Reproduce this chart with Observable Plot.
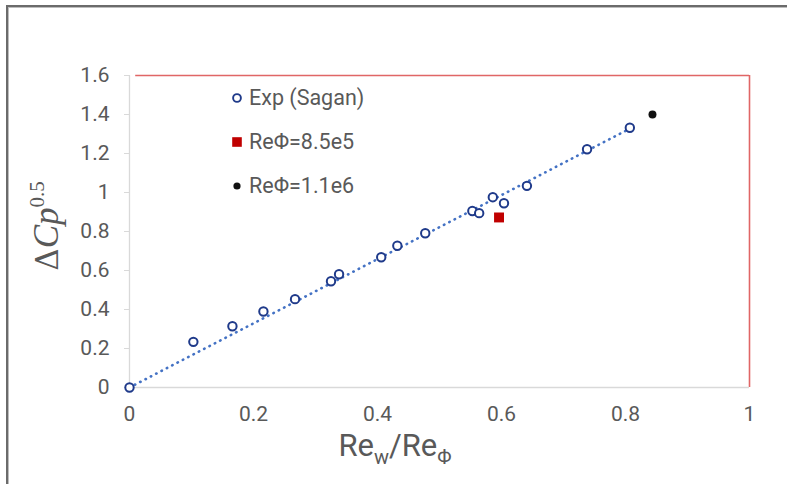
<!DOCTYPE html>
<html>
<head>
<meta charset="utf-8">
<script src="https://cdn.jsdelivr.net/npm/d3@7"></script>
<script src="https://cdn.jsdelivr.net/npm/@observablehq/plot@0.6"></script>
<style>
  html, body { margin: 0; padding: 0; background: #fff; }
  #wrap { position: relative; width: 787px; height: 484px; overflow: hidden; font-family: Roboto, "Noto Sans", sans-serif; color: #595959; }
  #frame { position: absolute; left: 6px; top: 5px; width: 900px; height: 600px; border-left: 2px solid #6b6b6b; border-top: 2px solid #6b6b6b; box-shadow: inset 1px 1px 0 #bdbdbd; }
  #chart { position: absolute; left: 0; top: 0; }
  #chart svg text { font-size: 21px; }
  .ytitle { position: absolute; left: 45px; top: 226px; transform: translate(-50%, -50%) rotate(-90deg); white-space: nowrap; font-size: 31px; line-height: 1; }
  .ytitle .delta { font-family: "DejaVu Serif", serif; }
  .ytitle .cp { font-family: "Liberation Serif", "DejaVu Serif", serif; font-style: italic; font-size: 35px; }
  .ytitle sup { font-family: "Liberation Serif", serif; font-size: 21px; vertical-align: 14px; }
  .xtitle { position: absolute; left: 395px; top: 430px; transform: translateX(-50%); white-space: nowrap; font-size: 31px; line-height: 1; }
  .xtitle sub { font-size: 20px; vertical-align: -8px; }
  .legend { position: absolute; left: 231px; font-size: 21.5px; line-height: 1; display: flex; align-items: center; }
  .legend svg { width: 12px; height: 12px; margin-right: 6px; }
</style>
</head>
<body>
<div id="wrap">
  <div id="frame"></div>
  <div id="chart"></div>
  <div class="ytitle"><span class="delta">Δ</span><span class="cp">Cp</span><sup>0.5</sup></div>
  <div class="xtitle">Re<sub>w</sub>/Re<sub>Φ</sub></div>
  <div class="legend" style="top:87px"><svg viewBox="0 0 12 12"><circle cx="6" cy="6" r="3.9" fill="none" stroke="#1f3a8a" stroke-width="1.9"/></svg>Exp (Sagan)</div>
  <div class="legend" style="top:131px"><svg viewBox="0 0 12 12"><rect x="1.2" y="1.2" width="9.6" height="9.6" fill="#c00000"/></svg>ReΦ=8.5e5</div>
  <div class="legend" style="top:175px"><svg viewBox="0 0 12 12"><circle cx="6" cy="6" r="3.6" fill="#111"/></svg>ReΦ=1.1e6</div>
</div>
<script>
// Experimental series (Sagan): Re_w/Re_Φ against ΔCp^0.5
const expX = [0, 0.103, 0.166, 0.216, 0.267, 0.325, 0.338, 0.406, 0.432, 0.477, 0.553, 0.564, 0.586, 0.604, 0.641, 0.738, 0.807];
const expY = [0, 0.234, 0.314, 0.390, 0.453, 0.545, 0.581, 0.668, 0.727, 0.791, 0.905, 0.894, 0.976, 0.945, 1.034, 1.222, 1.332];

// Single computed points
const re85X = [0.596];
const re85Y = [0.872];
const re11X = [0.8435];
const re11Y = [1.40];

// Axis ticks
const xTicks = [0, 0.2, 0.4, 0.6, 0.8, 1];
const yTicks = [0, 0.2, 0.4, 0.6, 0.8, 1, 1.2, 1.4, 1.6];

const exp = expX.map((x, i) => ({x, y: expY[i]}));
const re85 = re85X.map((x, i) => ({x, y: re85Y[i]}));
const re11 = re11X.map((x, i) => ({x, y: re11Y[i]}));

// Trendline through the origin, least squares on the experimental series
const slope = d3.sum(exp, d => d.x * d.y) / d3.sum(exp, d => d.x * d.x);
const trend = [0, d3.max(expX)].map(x => ({x, y: slope * x}));

const fmt = d => String(+d.toFixed(1));

const chart = Plot.plot({
  width: 787,
  height: 484,
  marginLeft: 129,
  marginRight: 38,
  marginTop: 75,
  marginBottom: 97,
  style: {background: "transparent", fontFamily: "Roboto, sans-serif", fontSize: "21px", overflow: "visible"},
  x: {domain: [0, 1]},
  y: {domain: [0, 1.6]},
  marks: [
    Plot.ruleY([1.6], {x1: 0.01, x2: 1, stroke: "#e06666", strokeWidth: 1.6}),
    Plot.ruleX([1], {stroke: "#e06666", strokeWidth: 1.6}),
    Plot.ruleY([0], {stroke: "#d9d9d9", strokeWidth: 1.3}),
    Plot.ruleX([0], {stroke: "#d9d9d9", strokeWidth: 1.3}),
    Plot.axisY({ticks: yTicks, tickFormat: fmt, tickSize: 5, tickPadding: 15, stroke: "#d9d9d9", fill: "#595959", label: null}),
    Plot.axisX({ticks: xTicks, tickFormat: fmt, tickSize: 0, tickPadding: 19, fill: "#595959", label: null}),
    Plot.line(trend, {x: "x", y: "y", stroke: "#4472c4", strokeWidth: 2.6, strokeDasharray: "0.5 5.5", strokeLinecap: "round"}),
    Plot.dot(exp, {x: "x", y: "y", r: 4.2, stroke: "#1f3a8a", strokeWidth: 2, fill: "white"}),
    Plot.dot(re85, {x: "x", y: "y", symbol: "square", r: 5.6, fill: "#c00000"}),
    Plot.dot(re11, {x: "x", y: "y", r: 4, fill: "#111"})
  ]
});
document.getElementById("chart").append(chart);
</script>
</body>
</html>
